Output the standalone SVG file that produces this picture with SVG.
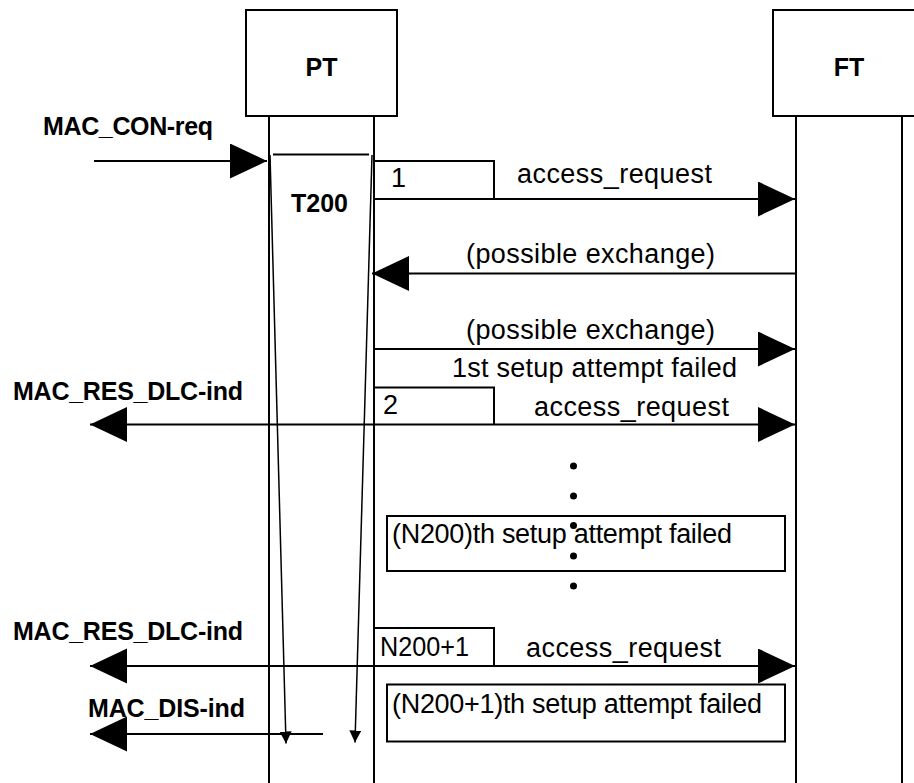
<svg xmlns="http://www.w3.org/2000/svg" width="914" height="783" viewBox="0 0 914 783">
<style>
.ln{stroke:#000;stroke-width:2;fill:none}
.th{stroke:#000;stroke-width:1.5;fill:none}
.bx{stroke:#000;stroke-width:2;fill:#fff}
.b{font-family:"Liberation Sans",Arial,sans-serif;font-weight:bold;font-size:25px;fill:#000}
.r{font-family:"Liberation Sans",Arial,sans-serif;font-size:27px;fill:#000}
</style>
<defs>
<marker id="ah" markerUnits="userSpaceOnUse" markerWidth="38" markerHeight="36" refX="37" refY="17.5" orient="auto-start-reverse" viewBox="0 0 38 36">
<path d="M0,0 L37,17.5 L0,35 z" fill="#000"/>
</marker>
<marker id="sa" markerUnits="userSpaceOnUse" markerWidth="13" markerHeight="13" refX="12" refY="6" orient="auto" viewBox="0 0 13 13">
<path d="M0,0 L12,6 L0,12 z" fill="#000"/>
</marker>
</defs>
<rect width="914" height="783" fill="#fff"/>

<g id="PT">
<rect class="bx" x="246" y="10" width="151" height="106"/>
<text class="b" x="321.5" y="76" text-anchor="middle">PT</text>
<line class="ln" x1="269" y1="116" x2="269" y2="783"/>
<line class="ln" x1="374" y1="116" x2="374" y2="783"/>
</g>

<g id="FT">
<rect class="bx" x="773" y="10" width="160" height="106"/>
<text class="b" x="849" y="76" text-anchor="middle">FT</text>
<line class="ln" x1="796" y1="116" x2="796" y2="783"/>
<line class="ln" x1="902" y1="116" x2="902" y2="783"/>
</g>

<g id="T200">
<line class="ln" x1="273" y1="154.5" x2="369" y2="154.5"/>
<text class="b" x="291" y="212" textLength="57">T200</text>
</g>

<g id="counter-boxes">
<polyline class="ln" points="375,161 494,161 494,199"/>
<text class="r" x="391" y="187">1</text>
<polyline class="ln" points="375,387.5 494,387.5 494,424.5"/>
<text class="r" x="383" y="414">2</text>
<polyline class="ln" points="375,628 494,628 494,666"/>
<text class="r" x="380" y="656" textLength="89" lengthAdjust="spacingAndGlyphs">N200+1</text>
</g>

<g id="failed-boxes">
<rect class="bx" x="387" y="516" width="398" height="55"/>
<text class="r" x="392" y="543" textLength="340">(N200)th setup attempt failed</text>
<rect class="bx" x="387" y="684.5" width="398" height="57"/>
<text class="r" x="392" y="713" textLength="370">(N200+1)th setup attempt failed</text>
</g>

<g id="connectors">
<line class="ln" x1="94" y1="161" x2="267" y2="161" marker-end="url(#ah)"/>
<line class="ln" x1="375" y1="199" x2="795" y2="199" marker-end="url(#ah)"/>
<line class="ln" x1="796" y1="273.5" x2="372" y2="273.5" marker-end="url(#ah)"/>
<line class="ln" x1="375" y1="349" x2="795" y2="349" marker-end="url(#ah)"/>
<line class="ln" x1="90" y1="424.5" x2="795" y2="424.5" marker-start="url(#ah)" marker-end="url(#ah)"/>
<line class="ln" x1="90" y1="666" x2="795" y2="666" marker-start="url(#ah)" marker-end="url(#ah)"/>
<line class="ln" x1="90" y1="734" x2="323" y2="734" marker-start="url(#ah)"/>
<line class="th" x1="270" y1="155" x2="286" y2="743.5" marker-end="url(#sa)"/>
<line class="th" x1="372" y1="155" x2="355" y2="742.5" marker-end="url(#sa)"/>
</g>

<g id="dots" fill="#000">
<circle cx="573.5" cy="466" r="3.5"/>
<circle cx="573.5" cy="496" r="3.5"/>
<circle cx="573.5" cy="525.5" r="3.5"/>
<circle cx="573.5" cy="556" r="3.5"/>
<circle cx="573.5" cy="586" r="3.5"/>
</g>

<g id="labels">
<text class="b" x="43" y="135" textLength="170">MAC_CON-req</text>
<text class="b" x="13" y="400" textLength="230">MAC_RES_DLC-ind</text>
<text class="b" x="13" y="640" textLength="230">MAC_RES_DLC-ind</text>
<text class="b" x="88" y="717" textLength="157">MAC_DIS-ind</text>
<text class="r" x="517" y="183" textLength="195">access_request</text>
<text class="r" x="466" y="263" textLength="249">(possible exchange)</text>
<text class="r" x="466" y="338.5" textLength="249">(possible exchange)</text>
<text class="r" x="452" y="377" textLength="285">1st setup attempt failed</text>
<text class="r" x="534" y="415.5" textLength="195">access_request</text>
<text class="r" x="526" y="656.5" textLength="195">access_request</text>
</g>
</svg>
